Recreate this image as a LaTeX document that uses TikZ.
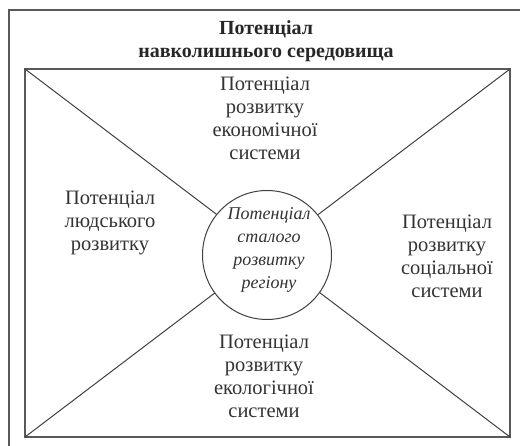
\documentclass[tikz,border=0pt]{standalone}
\usepackage{fontspec}
\setmainfont{Liberation Serif}
\begin{document}
\begin{tikzpicture}[x=1pt,y=-1pt,
  lbl/.style={align=center,inner sep=0pt,text=black!80,font=\fontsize{20.5}{23}\selectfont},
  ttl/.style={align=center,inner sep=0pt,text=black!85,font=\fontsize{20}{23.5}\selectfont\bfseries},
  frameline/.style={draw=black!65,line width=1.6pt},
  thinline/.style={draw=black!75,line width=1pt}]
\useasboundingbox (0,0) rectangle (520,446);
\begin{scope}
  \clip (0,0) rectangle (520,446);
  \draw[frameline] (9,10) rectangle (545,470);
\end{scope}
\coordinate (tl) at (25,69);
\coordinate (tr) at (510,69);
\coordinate (br) at (510,437);
\coordinate (bl) at (25,437);
\draw[frameline] (tl) -- (tr) -- (br) -- (bl) -- cycle;
\draw[thinline] (tl) -- (br);
\draw[thinline] (tr) -- (bl);
\node[circle,draw=black!75,line width=1pt,fill=white,minimum size=129pt,inner sep=0pt] (c) at (267,255) {};
\node[lbl,font=\fontsize{18}{23}\selectfont\itshape] (ct) at (269,250) {Потенціал\\сталого\\розвитку\\регіону};
\node[ttl] (title) at (266,41) {Потенціал\\навколишнього середовища};
\node[lbl] (top) at (265,118) {Потенціал\\розвитку\\економічної\\системи};
\node[lbl] (left) at (110,223) {Потенціал\\людського\\розвитку};
\node[lbl] (right) at (447,256) {Потенціал\\розвитку\\соціальної\\системи};
\node[lbl] (bottom) at (264,376) {Потенціал\\розвитку\\екологічної\\системи};
\end{tikzpicture}
\end{document}
